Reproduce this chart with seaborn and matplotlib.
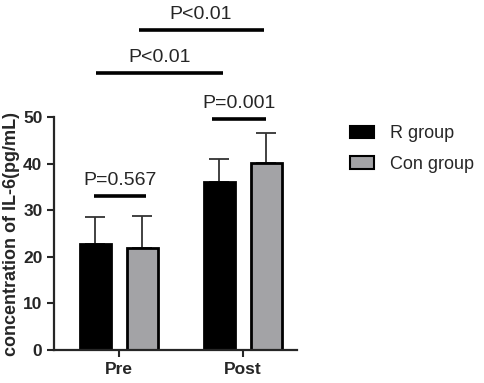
import pandas as pd
import matplotlib.pyplot as plt
import seaborn as sns
from matplotlib.patches import Patch

sns.set_style("ticks")
plt.rcParams['font.family'] = ['Liberation Sans', 'DejaVu Sans']

# data
times = ["Pre", "Post"]
groups = ["R group", "Con group"]
r_mean = [22.8, 36.0]
r_sd = [5.7, 5.0]
con_mean = [22.0, 40.2]
con_sd = [6.7, 6.5]
colors = ["#000000", "#a3a3a6"]

df = pd.DataFrame({
    "time": times * 2,
    "group": [groups[0]] * 2 + [groups[1]] * 2,
    "value": r_mean + con_mean,
    "sd": r_sd + con_sd,
})

fig = plt.figure(figsize=(4.84, 3.83), dpi=100)
ax = fig.add_axes([0.112, 0.086, 0.502, 0.608])

sns.barplot(data=df, x="time", y="value", hue="group", order=times, hue_order=groups,
            palette=colors, errorbar=None, width=0.76, gap=0.34,
            edgecolor="black", linewidth=2, legend=False, ax=ax)

# upward-only error bars, taken from the bars seaborn drew
for bar, (_, row) in zip(ax.patches, df.iterrows()):
    cx = bar.get_x() + bar.get_width() / 2
    ax.errorbar(cx, bar.get_height(), yerr=[[0], [row["sd"]]], fmt="none",
                ecolor="#333333", elinewidth=1.3, capsize=7, capthick=1.3, zorder=0)

ax.set_xlim(-0.52, 1.44)
ax.set_ylim(0, 50)
ax.set_yticks([0, 10, 20, 30, 40, 50])
ax.set_xlabel("")
ax.set_ylabel("concentration of IL-6(pg/mL)", fontsize=13, fontweight="bold", labelpad=2)
ax.tick_params(width=1.5, length=5, labelsize=12.5)
for lab in ax.get_xticklabels() + ax.get_yticklabels():
    lab.set_fontweight("bold")
for s in ["left", "bottom"]:
    ax.spines[s].set_linewidth(1.6)
sns.despine(ax=ax)

# significance brackets
brackets = [(-0.2, 0.22, 33.0, "P=0.567"),
            (0.75, 1.19, 49.6, "P=0.001"),
            (-0.18, 0.84, 59.5, "P<0.01"),
            (0.16, 1.17, 68.7, "P<0.01")]
for x0, x1, y, txt in brackets:
    ax.plot([x0, x1], [y, y], color="black", lw=2.6, clip_on=False, solid_capstyle="butt")
    ax.text((x0 + x1) / 2, y + 1.5, txt, ha="center", va="bottom", fontsize=14, clip_on=False)

handles = [Patch(facecolor=c, edgecolor="black", linewidth=1.5) for c in colors]
fig.legend(handles, groups, loc="upper left", bbox_to_anchor=(0.69, 0.715), frameon=False,
           fontsize=13, handlelength=1.3, handleheight=0.7, labelspacing=0.75, handletextpad=0.9)

fig.savefig("out.png", dpi=100)
